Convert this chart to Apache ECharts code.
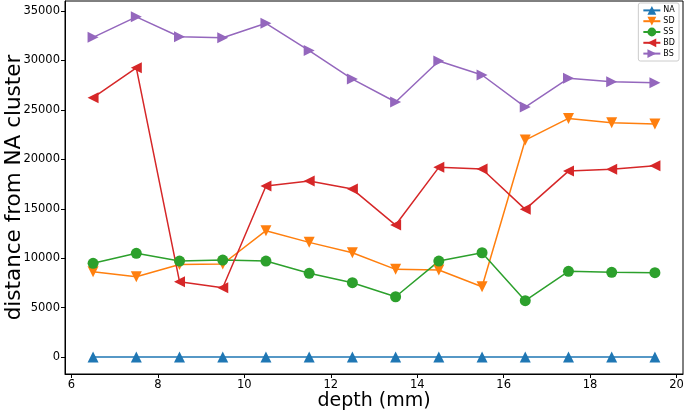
<!DOCTYPE html>
<html>
<head>
<meta charset="utf-8">
<script src="https://cdn.jsdelivr.net/npm/echarts@6/dist/echarts.min.js"></script>
<style>html,body{margin:0;padding:0;background:#fff}#c{width:685px;height:413px}</style>
</head>
<body>
<div id="c"></div>
<script>
const depth = [6.5, 7.5, 8.5, 9.5, 10.5, 11.5, 12.5, 13.5, 14.5, 15.5, 16.5, 17.5, 18.5, 19.5];
const NA = [0, 0, 0, 0, 0, 0, 0, 0, 0, 0, 0, 0, 0, 0];
const SD = [8630, 8120, 9370, 9410, 12780, 11600, 10550, 8870, 8800, 7110, 21950, 24140, 23700, 23570];
const SS = [9480, 10490, 9710, 9810, 9710, 8470, 7520, 6100, 9710, 10550, 5700, 8670, 8570, 8530];
const BD = [26230, 29260, 7620, 7010, 17300, 17800, 16990, 13350, 19190, 19020, 14940, 18810, 18990, 19350];
const BS = [32340, 34410, 32400, 32300, 33760, 31000, 28120, 25800, 29940, 28530, 25290, 28190, 27850, 27750];
const xTicks = [6, 8, 10, 12, 14, 16, 18, 20];
const yTicks = [0, 5000, 10000, 15000, 20000, 25000, 30000, 35000];

const font = 'DejaVu Sans';
function pair(arr) { return depth.map((d, i) => [d, arr[i]]); }
function mk(name, data, color, symbol, rot) {
  return {
    name: name, type: 'line', data: pair(data),
    symbol: symbol, symbolSize: 11, symbolRotate: rot,
    lineStyle: { color: color, width: 1.5 },
    itemStyle: { color: color },
    emphasis: { disabled: true },
    animation: false
  };
}
const chart = echarts.init(document.getElementById('c'), null, { renderer: 'canvas' });
chart.setOption({
  animation: false,
  grid: { left: 65, right: 2, top: 1, bottom: 39, containLabel: false, outerBoundsMode: 'none',
          show: true, borderColor: '#000', borderWidth: 1, backgroundColor: 'transparent' },
  legend: {
    orient: 'vertical', right: 6, top: 3,
    padding: [3, 4, 3, 4], itemGap: 2, itemWidth: 17, itemHeight: 11,
    backgroundColor: '#fff', borderColor: '#ccc', borderWidth: 1, borderRadius: 2,
    textStyle: { fontFamily: font, fontSize: 8, color: '#000', padding: [0, 0, 0, -2] },
    data: ['NA', 'SD', 'SS', 'BD', 'BS']
  },
  xAxis: {
    type: 'value', min: 5.85, max: 20.15,
    name: 'depth (mm)', nameLocation: 'middle', nameGap: 18, nameMoveOverlap: false,
    nameTextStyle: { fontFamily: font, fontSize: 19, color: '#000' },
    axisLine: { show: true, onZero: false, lineStyle: { color: '#000', width: 1 } },
    axisTick: { show: true, length: 4, customValues: xTicks, lineStyle: { color: '#000' } },
    axisLabel: { customValues: xTicks, fontFamily: font, fontSize: 11.5, color: '#000', margin: 5,
                 formatter: v => String(v) },
    splitLine: { show: false }
  },
  yAxis: {
    type: 'value', min: -1715, max: 36015,
    name: 'distance from NA cluster', nameLocation: 'middle', nameGap: 40, nameMoveOverlap: false,
    nameTextStyle: { fontFamily: font, fontSize: 21.5, color: '#000' },
    axisLine: { show: true, onZero: false, lineStyle: { color: '#000', width: 1 } },
    axisTick: { show: true, length: 4, customValues: yTicks, lineStyle: { color: '#000' } },
    axisLabel: { customValues: yTicks, fontFamily: font, fontSize: 11.5, color: '#000', margin: 5,
                 formatter: v => String(v) },
    splitLine: { show: false }
  },
  series: [
    mk('NA', NA, '#1f77b4', 'triangle', 0),
    mk('SD', SD, '#ff7f0e', 'triangle', 180),
    mk('SS', SS, '#2ca02c', 'circle', 0),
    mk('BD', BD, '#d62728', 'triangle', 90),
    mk('BS', BS, '#9467bd', 'triangle', -90)
  ]
});
</script>
</body>
</html>
